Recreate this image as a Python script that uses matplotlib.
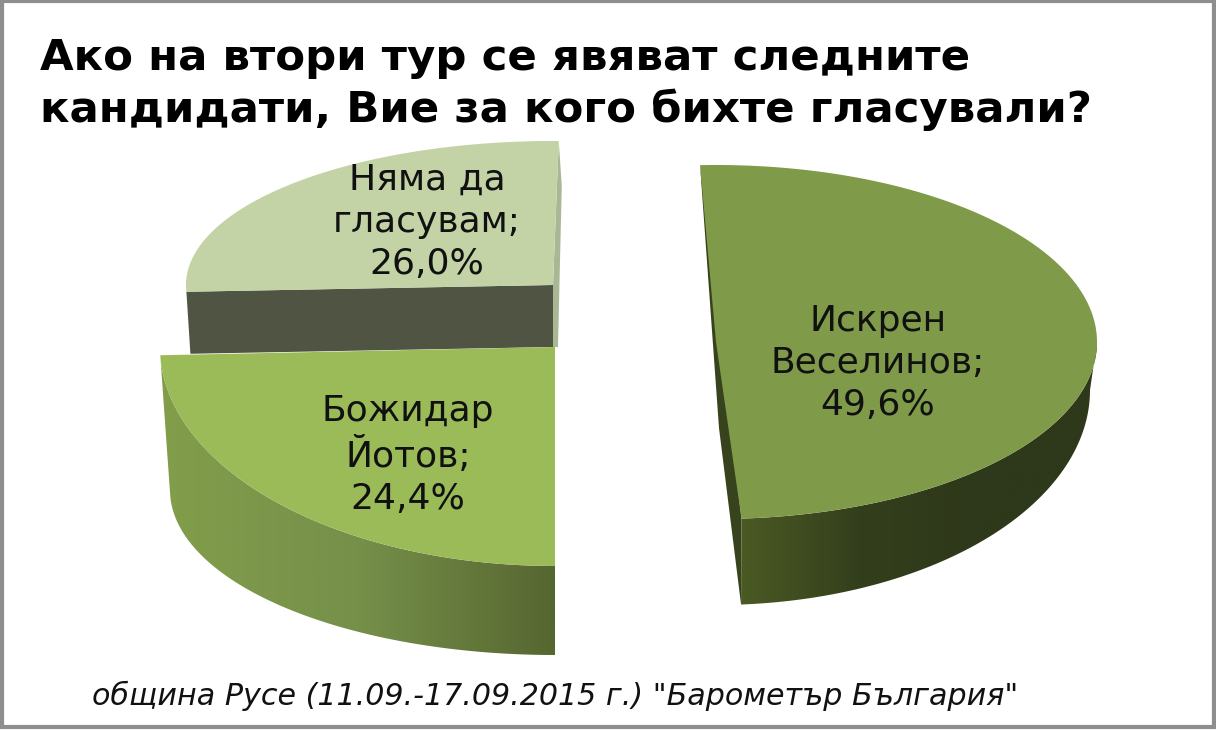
import numpy as np
import matplotlib
matplotlib.use("Agg")
import matplotlib.pyplot as plt
from matplotlib.colors import LinearSegmentedColormap
from matplotlib.patches import Polygon, Rectangle

W, H = 1216, 730

names = ["Искрен\nВеселинов", "Божидар\nЙотов", "Няма да\nгласувам"]
shares = [49.6, 24.4, 26.0]

title_text = "Ако на втори тур се явяват следните\nкандидати, Вие за кого бихте гласували?"
footer_text = 'община Русе (11.09.-17.09.2015 г.) "Барометър България"'

# pixel layout of each exploded slice, the lower rim has its own ellipse for the perspective
centers = [(716, 342), (555, 347), (553, 285)]
radii = [(381, 177), (395, 219), (367, 144)]
lower_centers = [(716, 390), (555, 490), None]
lower_radii = [(374, 215), (385, 165), None]
cut_depth = [86, 90, 62]
angle_shift = [0, -3.84, -3.3]
top_colors = ["#7F9A48", "#9BBB59", "#C3D3A6"]
cut_colors = ["#36431C", "#5A6B33", "#4F5443"]
wall_colors = [["#4B5A24", "#333F1C", "#2E381A", "#2E381A"],
               ["#829E4A", "#76904A", "#566630"],
               ["#A9B894", "#A9B894"]]
label_pos = [(878, 363), (408, 455), (427, 222)]
START_ANGLE = 92.4


def arc(center, radius, a0, a1, n=120):
    t = np.radians(np.linspace(a0, a1, n))
    # y axis points down, so the sine is subtracted
    return np.column_stack([center[0] + radius[0] * np.cos(t), center[1] - radius[1] * np.sin(t)])


def draw_slice(ax, i, a0, a1):
    cx, cy = centers[i]
    d = cut_depth[i]
    top = arc((cx, cy), radii[i], a0, a1)
    apex = np.array([cx, cy])

    # flat cut faces
    if i == 0:
        ax.add_patch(Polygon([top[0], apex + [3, d], arc(lower_centers[i], lower_radii[i], a1, a1, 1)[0], top[-1]],
                             fc=cut_colors[i], ec="none"))
    elif i == 2:
        ax.add_patch(Polygon([top[-1], top[-1] + [3, 45], apex + [5, d], apex + [0, d], apex],
                             fc=wall_colors[i][0], ec="none"))
        ax.add_patch(Polygon([top[0], apex, apex + [0, d], top[0] + [4, d]], fc=cut_colors[i], ec="none"))

    # outer wall, only the part facing the viewer
    if lower_centers[i] is not None:
        lo, hi = min(a0, a1), max(a0, a1)
        a_lo, a_hi = max(lo, -180), min(hi, 0)
        front = arc((cx, cy), radii[i], a_lo, a_hi)
        rim = arc(lower_centers[i], lower_radii[i], a_lo, a_hi)
        wall = np.vstack([front, rim[::-1]])
        patch = Polygon(wall, fc="none", ec="none")
        ax.add_patch(patch)
        cmap = LinearSegmentedColormap.from_list("wall", wall_colors[i])
        x0, x1 = wall[:, 0].min(), wall[:, 0].max()
        y0, y1 = wall[:, 1].min(), wall[:, 1].max()
        im = ax.imshow(np.linspace(0, 1, 256)[None, :], cmap=cmap, aspect="auto",
                       extent=(x0, x1, y1, y0), zorder=1)
        im.set_clip_path(patch)

    ax.add_patch(Polygon(np.vstack([apex, top]), fc=top_colors[i], ec="none", zorder=2))


fig = plt.figure(figsize=(W / 100, H / 100), dpi=100)
ax = fig.add_axes([0, 0, 1, 1])
ax.axis("off")

ends = START_ANGLE - np.cumsum(shares) / 100 * 360
starts = np.concatenate([[START_ANGLE], ends[:-1]])
for i in [2, 1, 0]:
    draw_slice(ax, i, starts[i] + angle_shift[i], ends[i] + angle_shift[i])

ax.set_xlim(0, W)
ax.set_ylim(H, 0)

for name, share, (x, y) in zip(names, shares, label_pos):
    label = f"{name};\n{share:.1f}%".replace(".", ",")
    ax.text(x, y, label, ha="center", va="center", fontsize=26, color="#111111",
            linespacing=1.3, zorder=3)

ax.text(40, 84, title_text, ha="left", va="center", fontsize=31.3, fontweight="bold",
        color="black", linespacing=1.26, zorder=3)
ax.text(92, 696, footer_text, ha="left", va="center", fontsize=21.7, style="italic",
        family="DejaVu Sans", color="#111111", zorder=3)

ax.add_patch(Rectangle((1.5, 1), W - 4, H - 4, fc="none", ec="#8E8E8E", lw=3, zorder=4))

fig.savefig("out.png", dpi=100, facecolor="white")
